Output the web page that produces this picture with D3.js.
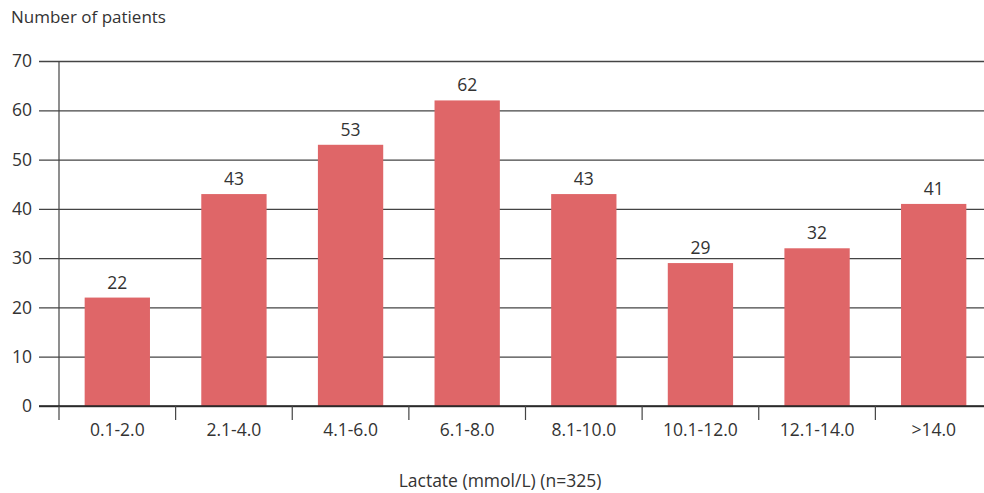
<!DOCTYPE html>
<html>
<head>
<meta charset="utf-8">
<script src="https://cdn.jsdelivr.net/npm/d3@7"></script>
<style>
  html, body { margin: 0; padding: 0; background: #fff; }
  svg { display: block; font-family: "Open Sans", "Noto Sans", sans-serif; }
</style>
</head>
<body>
<svg id="chart" width="984" height="493"></svg>
<script>
// Lactate ranges and patient counts
const categories = ["0.1-2.0", "2.1-4.0", "4.1-6.0", "6.1-8.0", "8.1-10.0", "10.1-12.0", "12.1-14.0", ">14.0"];
const patients = [22, 43, 53, 62, 43, 29, 32, 41];
const yTicks = [0, 10, 20, 30, 40, 50, 60, 70];

const svg = d3.select("#chart");
const plotLeft = 59, plotTop = 61, plotBottom = 406, plotRight = 992;

const x = d3.scaleBand().domain(categories).range([plotLeft, plotRight]).paddingInner(0.44).paddingOuter(0.22);
const xTicks = d3.scaleBand().domain(categories).range([plotLeft, plotRight]);
const y = d3.scaleLinear().domain([0, 70]).range([plotBottom, plotTop]);

const textColor = "#333";
const lineColor = "#444";
const labelSize = 17.5;

// horizontal gridlines with the y-axis labels
const yAxis = d3.axisLeft(y).tickValues(yTicks).tickSize(-(984 - 39)).tickPadding(6).tickSizeOuter(0);
const gy = svg.append("g").attr("transform", "translate(39,0)").call(yAxis);
gy.select(".domain").remove();
gy.selectAll(".tick line").attr("stroke", lineColor).attr("stroke-width", 1.3);
gy.selectAll(".tick text").attr("fill", textColor).attr("font-size", labelSize).attr("x", -7)
  .attr("font-family", "\"Open Sans\", \"Noto Sans\", sans-serif");

// vertical axis line
svg.append("line").attr("x1", plotLeft).attr("x2", plotLeft).attr("y1", plotTop).attr("y2", plotBottom)
  .attr("stroke", lineColor).attr("stroke-width", 1.2);

// bars
svg.append("g").selectAll("rect").data(patients).join("rect")
  .attr("x", (d, i) => x(categories[i]))
  .attr("width", x.bandwidth())
  .attr("y", d => y(d))
  .attr("height", d => plotBottom - y(d))
  .attr("fill", "#df6668");

// value labels
svg.append("g").selectAll("text").data(patients).join("text")
  .attr("x", (d, i) => x(categories[i]) + x.bandwidth() / 2)
  .attr("y", d => y(d) - 9)
  .attr("text-anchor", "middle")
  .attr("font-size", labelSize)
  .attr("fill", textColor)
  .text(d => d);

// x axis baseline, boundary ticks and category labels
svg.append("line").attr("x1", 39).attr("x2", 984).attr("y1", plotBottom).attr("y2", plotBottom)
  .attr("stroke", "#222").attr("stroke-width", 1.5);
const boundaries = categories.map(c => xTicks(c)).concat([plotRight]);
svg.append("g").selectAll("line").data(boundaries).join("line")
  .attr("x1", d => d).attr("x2", d => d)
  .attr("y1", plotBottom).attr("y2", plotBottom + 14)
  .attr("stroke", lineColor).attr("stroke-width", 1.2);
svg.append("g").selectAll("text").data(categories).join("text")
  .attr("x", d => xTicks(d) + xTicks.bandwidth() / 2)
  .attr("y", 436)
  .attr("text-anchor", "middle")
  .attr("font-size", labelSize)
  .attr("fill", textColor)
  .text(d => d);

// axis titles
svg.append("text").attr("x", 11).attr("y", 23).attr("font-size", 17).attr("fill", textColor)
  .text("Number of patients");
svg.append("text").attr("x", 500).attr("y", 487).attr("text-anchor", "middle")
  .attr("font-size", 17.5).attr("fill", textColor)
  .text("Lactate (mmol/L) (n=325)");
</script>
</body>
</html>
